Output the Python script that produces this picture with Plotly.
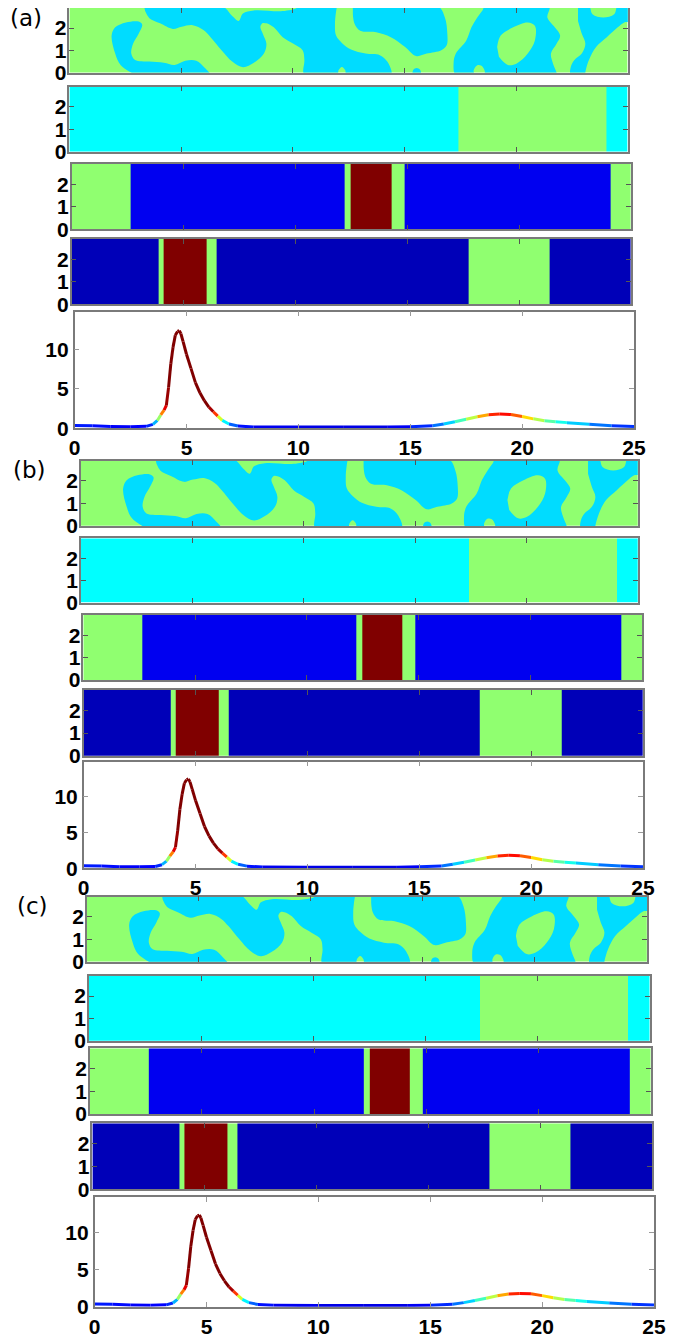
import plotly.graph_objects as go

W, H = 677, 1335
PAGE_OFFSET = 8  # default body margin of the html page, in px

# ---------------- data ----------------
X_MAX = 25
STRIP_Y_MAX = 2.9
LINE_Y_MAX = 14.8

panel_labels = ["(a)", "(b)", "(c)"]

strip_palette = {"G": "#90FF70", "C": "#00FFFF", "B": "#0000F0",
                 "N": "#0000B8", "R": "#800000", "L": "#00DCFF"}

# strip 2 (cyan / green)
strip2_edges = [0, 17.42, 24.05, 25]
strip2_codes = ["C", "G", "C"]
# strip 3
strip3_edges = [0, 2.64, 12.2, 12.47, 14.28, 14.86, 24.07, 25]
strip3_codes = ["G", "B", "G", "R", "G", "B", "G"]
# strip 4
strip4_edges = [0, 3.9, 4.11, 6.03, 6.46, 17.72, 21.35, 25]
strip4_codes = ["N", "G", "R", "G", "N", "G", "N"]

# strip 1: light-blue regions on a green field (outlines read in data units)
strip1_blue_regions = [
    # left bulge joined to the thin bottom band
    [(2.94, -0.1), (2.29, 0.34), (2.05, 0.85), (1.89, 1.66), (2.05, 2.03), (2.53, 2.25),
     (3.1, 2.29), (3.26, 2.15), (3.1, 1.74), (2.85, 1.29), (2.77, 0.85), (2.94, 0.56),
     (3.58, 0.49), (4.23, 0.44), (4.71, 0.34), (5.19, 0.53), (5.68, 0.53), (6.08, 0.19),
     (6.35, -0.1)],
    # large upper / middle region
    [(3.34, 3.0), (6.81, 3.0), (7.29, 2.54), (7.58, 2.32), (7.77, 2.65), (8.26, 2.79),
     (9.55, 2.76), (10.19, 2.91), (10.2, 3.0), (12.0, 3.0), (11.97, 2.91), (11.89, 2.18),
     (11.94, 1.66), (12.21, 1.32), (12.61, 1.03), (13.26, 0.85), (13.9, 0.78),
     (14.23, 0.49), (14.4, -0.1), (12.4, -0.1), (12.35, 0.1), (12.2, 0.25), (12.05, 0.1),
     (12.0, -0.1), (10.52, -0.1), (10.52, 0.56), (10.44, 1.0), (10.03, 1.29), (9.55, 1.59),
     (9.15, 2.03), (8.82, 2.21), (8.66, 2.22), (8.55, 2.06), (8.66, 1.74), (8.82, 1.29),
     (8.71, 0.85), (8.26, 0.44), (7.77, 0.24), (7.29, 0.49), (6.81, 1.0), (6.32, 1.59),
     (6.0, 1.91), (5.52, 2.13), (5.03, 2.06), (4.63, 1.96), (4.06, 2.21), (3.58, 2.44),
     (3.39, 2.76)],
    # region above the diagonal green band
    [(12.69, 3.0), (16.48, 3.0), (16.81, 2.47), (16.92, 1.74), (16.89, 1.22), (16.65, 1.0),
     (16.0, 0.85), (15.52, 0.74), (15.03, 1.15), (14.39, 1.59), (13.74, 1.81),
     (13.02, 1.88), (12.77, 2.18), (12.69, 2.62)],
    # small bump on the bottom edge
    [(15.35, -0.1), (15.4, 0.12), (15.55, 0.2), (15.7, 0.12), (15.76, -0.1)],
    # region right of the green top block (holds the green oval)
    [(18.58, 3.0), (21.48, 3.0), (21.4, 2.47), (21.73, 2.03), (21.97, 1.66), (21.81, 1.29),
     (21.56, 0.85), (21.65, 0.41), (21.81, 0.0), (21.82, -0.1), (18.6, -0.1), (18.6, 0.05),
     (18.45, 0.3), (18.25, 0.32), (18.1, 0.1), (18.1, -0.1), (17.29, -0.1), (17.2, 0.41),
     (17.3, 0.85), (17.77, 1.44), (18.0, 2.03), (18.26, 2.47), (18.5, 2.8)],
    # right end, between the wavy band, the hanging blob and the corner wedge
    [(22.77, 3.0), (23.26, 3.0), (23.42, 2.62), (23.9, 2.47), (24.39, 2.62), (24.55, 3.0),
     (25.1, 3.0), (25.1, 2.3), (24.84, 2.25), (24.55, 2.03), (24.06, 1.59), (23.58, 1.15),
     (23.26, 0.56), (23.1, 0.0), (23.1, -0.1), (22.45, -0.1), (22.45, 0.26), (22.61, 0.56),
     (22.94, 0.85), (23.1, 1.29), (22.94, 1.74), (22.77, 2.32)],
]
strip1_green_islands = [
    [(19.15, 1.15), (19.31, 1.66), (19.87, 2.03), (20.52, 2.25), (20.84, 2.1),
     (20.84, 1.44), (20.52, 0.85), (20.03, 0.41), (19.63, 0.34), (19.23, 0.71)],
]

# bottom curve (x, y, colour value on the jet scale)
curve_x = [0, 0.8, 1.6, 2.5, 3.2, 3.5, 3.7, 3.85, 4.0, 4.1, 4.2, 4.3, 4.4, 4.5, 4.6,
           4.68, 4.75, 4.85, 5.0, 5.2, 5.4, 5.6, 5.8, 6.0, 6.2, 6.4, 6.6, 6.9, 7.3, 8,
           10, 12, 14, 15, 16, 16.5, 17, 17.5, 18, 18.5, 19, 19.5, 20, 20.5, 21, 21.5,
           22, 23, 24, 25]
curve_y = [0.35, 0.32, 0.22, 0.2, 0.25, 0.5, 1.0, 1.7, 2.3, 2.9, 5.2, 8.2, 10.3, 11.8,
           12.3, 12.4, 12.0, 11.0, 9.4, 7.6, 5.8, 4.5, 3.5, 2.7, 2.1, 1.55, 1.0, 0.55,
           0.3, 0.18, 0.15, 0.15, 0.15, 0.2, 0.33, 0.55, 0.84, 1.15, 1.47, 1.72, 1.8,
           1.75, 1.5, 1.2, 0.97, 0.84, 0.72, 0.5, 0.33, 0.22]
curve_c = [0.15, 0.15, 0.12, 0.12, 0.13, 0.2, 0.4, 0.65, 0.85, 0.95, 1.0, 1.0, 1.0, 1.0,
           1.0, 1.0, 1.0, 1.0, 1.0, 1.0, 1.0, 1.0, 1.0, 1.0, 0.92, 0.72, 0.45, 0.28,
           0.16, 0.12, 0.1, 0.1, 0.1, 0.13, 0.2, 0.28, 0.38, 0.5, 0.62, 0.8, 0.88,
           0.85, 0.72, 0.6, 0.5, 0.42, 0.37, 0.28, 0.2, 0.15]

x_ticks_line = [0, 5, 10, 15, 20, 25]
y_ticks_line = [0, 5, 10]
y_ticks_strip = [0, 1, 2]
x_inner_ticks = [5, 10, 15, 20]

# ---------------- layout geometry (page pixels: left, right, top, bottom) ----------------
panels = [
    (69.4, 627.8, 8.0, 72.5), (69.4, 627.8, 86.7, 151.7), (71.6, 631.0, 164.0, 229.3),
    (71.6, 631.0, 239.0, 304.3), (74.6, 634.0, 311.7, 428.3),
    (81.0, 637.7, 460.7, 526.0), (81.0, 637.7, 538.3, 602.7), (83.3, 642.0, 615.0, 680.0),
    (83.7, 643.0, 690.0, 755.7), (83.7, 643.0, 761.7, 868.3),
    (86.8, 647.0, 896.7, 961.7), (89.0, 649.5, 976.0, 1040.7), (89.8, 650.7, 1048.3, 1114.0),
    (92.4, 652.0, 1123.3, 1189.3), (94.6, 654.0, 1197.3, 1306.7),
]
label_pos = [(26, 18), (30, 470), (32, 906)]


def clamp01(v):
    return min(max(v, 0.0), 1.0)


def fx(px):
    return clamp01((px - PAGE_OFFSET) / W)


def fy(py):
    return clamp01(1 - (py - PAGE_OFFSET) / H)


def jet(c):
    c = min(max(c, 0.0), 1.0)
    r = min(max(min(4 * c - 1.5, -4 * c + 4.5), 0), 1)
    g = min(max(min(4 * c - 0.5, -4 * c + 3.5), 0), 1)
    b = min(max(min(4 * c + 0.5, -4 * c + 2.5), 0), 1)
    return "rgb(%d,%d,%d)" % (round(r * 255), round(g * 255), round(b * 255))


fig = go.Figure()
layout = dict(width=W, height=H, margin=dict(l=0, r=0, t=0, b=0, autoexpand=False),
              paper_bgcolor="white", plot_bgcolor="white", showlegend=False)

TICKFONT = dict(family="Liberation Sans, Arial, sans-serif", size=21, color="black",
                weight="bold")


def ax_names(i):
    s = "" if i == 1 else str(i)
    return "x" + s, "y" + s, "xaxis" + s, "yaxis" + s


def strip_heatmap(edges, codes, xa, ya):
    keys = list(dict.fromkeys(codes))
    k = len(keys)
    cs = []
    for j, key in enumerate(keys):
        cs.append([j / k, strip_palette[key]])
        cs.append([(j + 1) / k, strip_palette[key]])
    z = [[keys.index(c) for c in codes]]
    return go.Heatmap(x=edges, y=[0, STRIP_Y_MAX], z=z, colorscale=cs, zmin=-0.5,
                      zmax=k - 0.5, showscale=False, hoverinfo="skip", xaxis=xa, yaxis=ya)


def filled_region(poly, color, xa, ya):
    return go.Scatter(x=[p[0] for p in poly], y=[p[1] for p in poly], mode="lines",
                      fill="toself", fillcolor=color,
                      line=dict(width=0, shape="spline", smoothing=1.0, color=color),
                      hoverinfo="skip", xaxis=xa, yaxis=ya)


idx = 0
for g in range(3):
    for s in range(5):
        idx += 1
        xa, ya, xk, yk = ax_names(idx)
        l, r, t, b = panels[idx - 1]
        is_line = (s == 4)
        layout[xk] = dict(domain=[fx(l), fx(r)], anchor=ya, range=[0, X_MAX],
                          automargin=False,
                          showgrid=False, zeroline=False, showline=True, mirror="allticks",
                          linecolor="#7a7a7a", linewidth=1.5, ticks="inside", ticklen=5,
                          tickcolor="#555" if not is_line else "#999",
                          tickvals=x_ticks_line if is_line else x_inner_ticks,
                          showticklabels=is_line, tickfont=TICKFONT, fixedrange=True,
                          ticklabelstandoff=0)
        layout[yk] = dict(domain=[fy(b), fy(t)], anchor=xa,
                          range=[0, LINE_Y_MAX if is_line else STRIP_Y_MAX],
                          automargin=False,
                          showgrid=False, zeroline=False, showline=True, mirror="allticks",
                          linecolor="#7a7a7a", linewidth=1.5, ticks="inside", ticklen=5,
                          tickcolor="#555" if not is_line else "#999",
                          tickvals=y_ticks_line if is_line else y_ticks_strip,
                          tickfont=TICKFONT, fixedrange=True,
                          ticklabelstandoff=-3 if not is_line else 0)
        if s == 0:
            fig.add_trace(strip_heatmap([0, X_MAX], ["G"], xa, ya))
            for poly in strip1_blue_regions:
                fig.add_trace(filled_region(poly, strip_palette["L"], xa, ya))
            for poly in strip1_green_islands:
                fig.add_trace(filled_region(poly, strip_palette["G"], xa, ya))
        elif s == 1:
            fig.add_trace(strip_heatmap(strip2_edges, strip2_codes, xa, ya))
        elif s == 2:
            fig.add_trace(strip_heatmap(strip3_edges, strip3_codes, xa, ya))
        elif s == 3:
            fig.add_trace(strip_heatmap(strip4_edges, strip4_codes, xa, ya))
        else:
            for j in range(len(curve_x) - 1):
                cval = 0.5 * (curve_c[j] + curve_c[j + 1])
                fig.add_trace(go.Scatter(x=curve_x[j:j + 2], y=curve_y[j:j + 2],
                                         mode="lines", line=dict(color=jet(cval), width=3),
                                         hoverinfo="skip", xaxis=xa, yaxis=ya))

annotations = []
for lab, (px, py) in zip(panel_labels, label_pos):
    annotations.append(dict(text=lab, x=fx(px), y=fy(py), xref="paper", yref="paper",
                            showarrow=False, xanchor="center", yanchor="middle",
                            font=dict(family="DejaVu Sans", size=23, color="black")))
layout["annotations"] = annotations
fig.update_layout(**layout)
fig.write_html("out.html")
